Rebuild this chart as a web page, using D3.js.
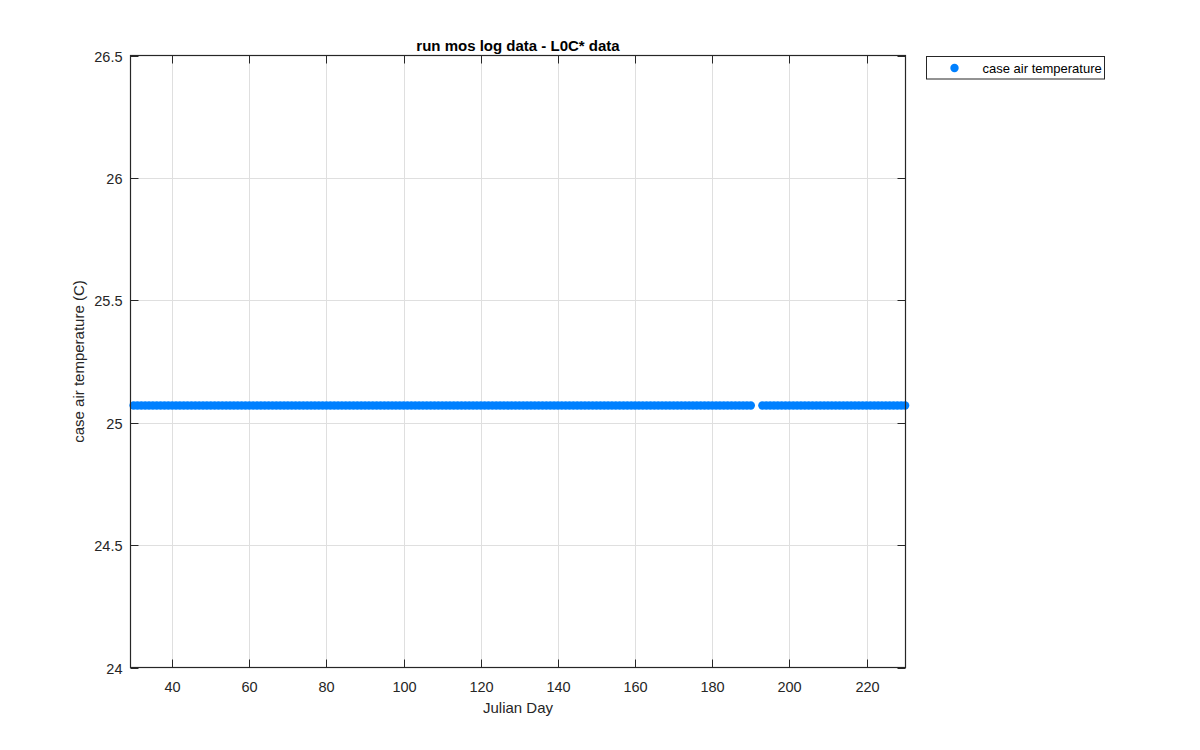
<!DOCTYPE html>
<html>
<head>
<meta charset="utf-8">
<script src="https://cdn.jsdelivr.net/npm/d3@7"></script>
<style>
  body { margin: 0; background: #fff; }
  svg text { font-family: "Liberation Sans", Arial, Helvetica, sans-serif; fill: #262626; }
</style>
</head>
<body>
<div id="chart"></div>
<script>
// Julian days of the logged samples (gap around day 191-192)
const julianDays = [
  30, 31, 32, 33, 34, 35, 36, 37, 38, 39, 40, 41, 42, 43, 44, 45, 46, 47, 48, 49,
  50, 51, 52, 53, 54, 55, 56, 57, 58, 59, 60, 61, 62, 63, 64, 65, 66, 67, 68, 69,
  70, 71, 72, 73, 74, 75, 76, 77, 78, 79, 80, 81, 82, 83, 84, 85, 86, 87, 88, 89,
  90, 91, 92, 93, 94, 95, 96, 97, 98, 99, 100, 101, 102, 103, 104, 105, 106, 107, 108, 109,
  110, 111, 112, 113, 114, 115, 116, 117, 118, 119, 120, 121, 122, 123, 124, 125, 126, 127, 128, 129,
  130, 131, 132, 133, 134, 135, 136, 137, 138, 139, 140, 141, 142, 143, 144, 145, 146, 147, 148, 149,
  150, 151, 152, 153, 154, 155, 156, 157, 158, 159, 160, 161, 162, 163, 164, 165, 166, 167, 168, 169,
  170, 171, 172, 173, 174, 175, 176, 177, 178, 179, 180, 181, 182, 183, 184, 185, 186, 187, 188, 189,
  190,
  193, 194, 195, 196, 197, 198, 199, 200, 201, 202, 203, 204, 205, 206, 207, 208, 209,
  210, 211, 212, 213, 214, 215, 216, 217, 218, 219, 220, 221, 222, 223, 224, 225, 226, 227, 228, 229,
  230
];
// case air temperature reading (C), constant over the whole record
const caseAirTemp = 25.07;

const xTicks = [40, 60, 80, 100, 120, 140, 160, 180, 200, 220];
const yTicks = [24, 24.5, 25, 25.5, 26, 26.5];
const xDomain = [29.2, 230.1];
const yDomain = [24, 26.5];

const width = 1200, height = 750;
const margin = { left: 130.5, right: 1200 - 905.5, top: 55.5, bottom: 750 - 667.5 };

const svg = d3.select("#chart").append("svg")
  .attr("width", width)
  .attr("height", height);

const x = d3.scaleLinear().domain(xDomain).range([margin.left, width - margin.right]);
const y = d3.scaleLinear().domain(yDomain).range([height - margin.bottom, margin.top]);

const plotW = x.range()[1] - x.range()[0];
const plotH = y.range()[0] - y.range()[1];

svg.append("rect")
  .attr("x", margin.left).attr("y", margin.top)
  .attr("width", plotW).attr("height", plotH)
  .attr("fill", "#fff");

// grid
svg.append("g").selectAll("line.gx")
  .data(xTicks).enter().append("line")
  .attr("x1", d => Math.round(x(d)) + 0.5).attr("x2", d => Math.round(x(d)) + 0.5)
  .attr("y1", margin.top).attr("y2", margin.top + plotH)
  .attr("stroke", "#dfdfdf").attr("stroke-width", 1);
svg.append("g").selectAll("line.gy")
  .data(yTicks.slice(1, -1)).enter().append("line")
  .attr("y1", d => Math.round(y(d)) + 0.5).attr("y2", d => Math.round(y(d)) + 0.5)
  .attr("x1", margin.left).attr("x2", margin.left + plotW)
  .attr("stroke", "#dfdfdf").attr("stroke-width", 1);

// data points
svg.append("g").selectAll("circle")
  .data(julianDays).enter().append("circle")
  .attr("cx", d => x(d))
  .attr("cy", y(caseAirTemp))
  .attr("r", 4.2)
  .attr("fill", "#0080ff");

// axes (MATLAB-style box with inward ticks)
const tickLen = 8;
const axisColor = "#262626";
const axisG = svg.append("g");

axisG.append("rect")
  .attr("x", margin.left).attr("y", margin.top)
  .attr("width", plotW).attr("height", plotH)
  .attr("fill", "none").attr("stroke", axisColor).attr("stroke-width", 1.2);

xTicks.forEach(t => {
  const px = Math.round(x(t)) + 0.5;
  axisG.append("line").attr("x1", px).attr("x2", px)
    .attr("y1", margin.top + plotH).attr("y2", margin.top + plotH - tickLen)
    .attr("stroke", axisColor);
  axisG.append("line").attr("x1", px).attr("x2", px)
    .attr("y1", margin.top).attr("y2", margin.top + tickLen)
    .attr("stroke", axisColor);
  axisG.append("text")
    .attr("x", px).attr("y", margin.top + plotH + 24)
    .attr("text-anchor", "middle")
    .style("font-size", "14.5px")
    .text(t);
});

yTicks.forEach(t => {
  const py = Math.round(y(t)) + 0.5;
  axisG.append("line").attr("y1", py).attr("y2", py)
    .attr("x1", margin.left).attr("x2", margin.left + tickLen)
    .attr("stroke", axisColor);
  axisG.append("line").attr("y1", py).attr("y2", py)
    .attr("x1", margin.left + plotW).attr("x2", margin.left + plotW - tickLen)
    .attr("stroke", axisColor);
  axisG.append("text")
    .attr("x", margin.left - 8).attr("y", py)
    .attr("dy", "0.36em")
    .attr("text-anchor", "end")
    .style("font-size", "14.5px")
    .text(t);
});

// labels
const cx = margin.left + plotW / 2;
svg.append("text")
  .attr("x", cx).attr("y", 51)
  .attr("text-anchor", "middle")
  .style("font-size", "15px").style("font-weight", "bold")
  .style("fill", "#000")
  .text("run mos log data - L0C* data");

svg.append("text")
  .attr("x", cx).attr("y", 713)
  .attr("text-anchor", "middle")
  .style("font-size", "15px")
  .text("Julian Day");

svg.append("text")
  .attr("transform", "translate(84," + (margin.top + plotH / 2) + ") rotate(-90)")
  .attr("text-anchor", "middle")
  .style("font-size", "15px")
  .text("case air temperature (C)");

// legend
const legend = svg.append("g").attr("transform", "translate(926.5,56.5)");
legend.append("rect")
  .attr("width", 178).attr("height", 22.5)
  .attr("fill", "#fff").attr("stroke", axisColor).attr("stroke-width", 1);
legend.append("circle")
  .attr("cx", 28).attr("cy", 11.5).attr("r", 4.2)
  .attr("fill", "#0080ff");
legend.append("text")
  .attr("x", 56).attr("y", 11.5).attr("dy", "0.36em")
  .style("font-size", "13px")
  .style("fill", "#000")
  .text("case air temperature");
</script>
</body>
</html>
